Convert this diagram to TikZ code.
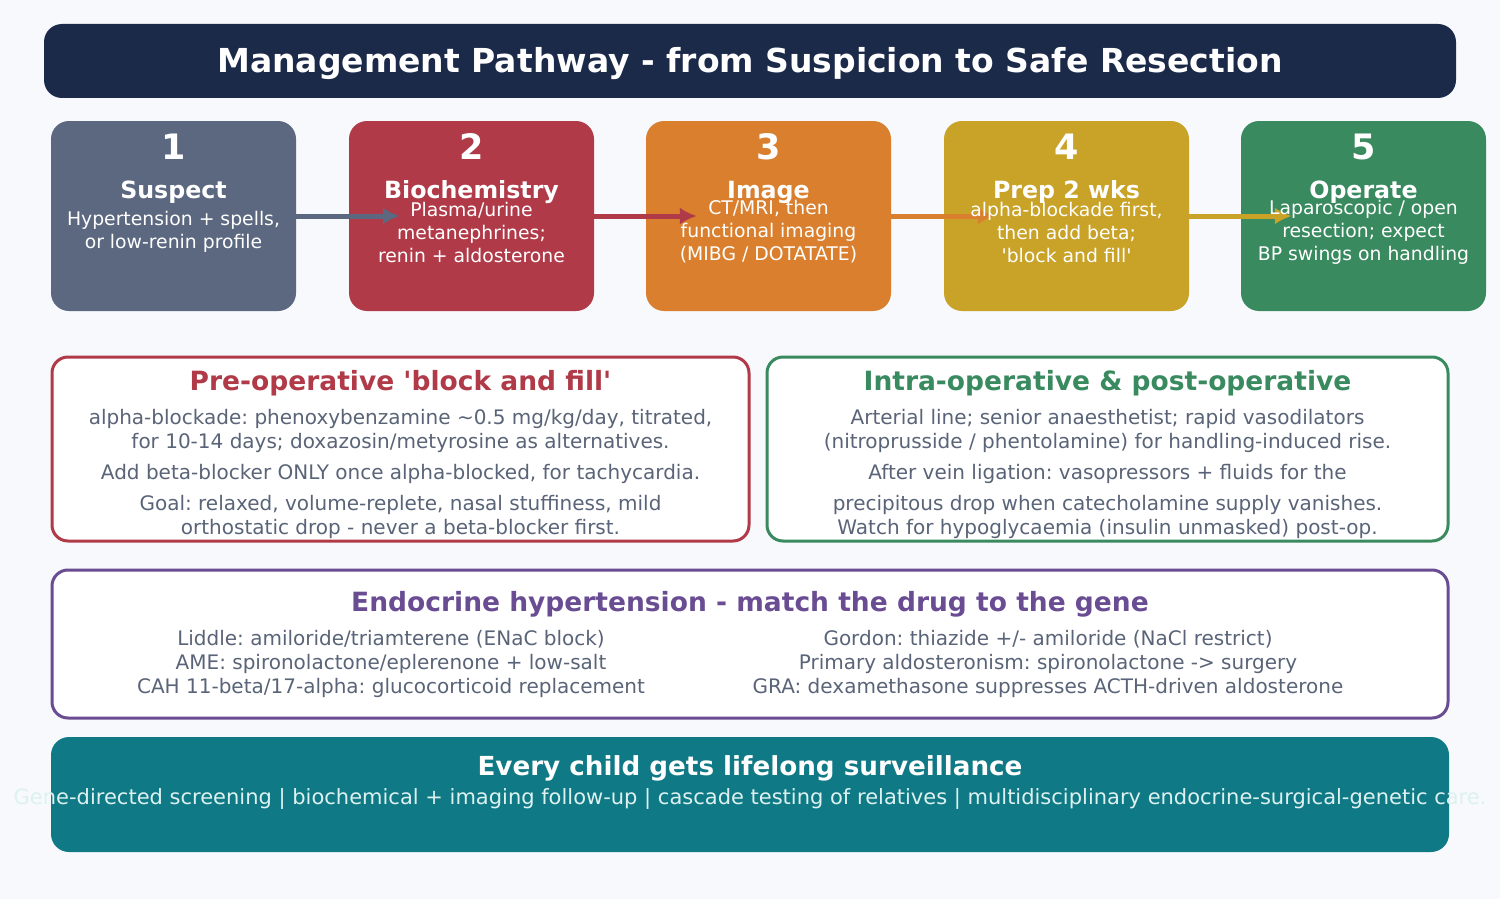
\documentclass[tikz,border=0pt]{standalone}
\usepackage{fontspec}
\setmainfont{DejaVu Sans}
\usetikzlibrary{arrows.meta,positioning}
\frenchspacing

\definecolor{pagebg}{HTML}{F7F9FC}
\definecolor{navy}{HTML}{1C2A4A}
\definecolor{slate}{HTML}{5B6880}
\definecolor{crimson}{HTML}{B03A48}
\definecolor{amber}{HTML}{D97F2E}
\definecolor{mustard}{HTML}{C9A228}
\definecolor{leaf}{HTML}{3A8A60}
\definecolor{plum}{HTML}{6A4C93}
\definecolor{teal}{HTML}{0F7A85}
\definecolor{bodygray}{HTML}{5A6478}
\definecolor{mist}{HTML}{DDF1F1}

\newcommand{\q}{\textquotesingle}

\begin{document}
\begin{tikzpicture}[x=1pt, y=-1pt,
  stepbox/.style={fill=#1, rounded corners=18pt, minimum width=245pt, minimum height=190pt, inner sep=0pt},
  panel/.style={draw=#1, line width=3pt, fill=white, rounded corners=16pt, inner sep=0pt},
  numtxt/.style={text=white, font=\fontsize{35}{40}\selectfont\bfseries},
  steptitle/.style={text=white, font=\fontsize{23.7}{28}\selectfont\bfseries},
  stepdesc/.style={text=white, align=center, font=\fontsize{18.8}{23}\selectfont},
  head/.style={text=#1, font=\fontsize{26.5}{30}\selectfont\bfseries},
  body/.style={text=bodygray, align=center, font=\fontsize{20}{24}\selectfont},
  flow/.style={-{Latex[length=17pt,width=17pt]}, line width=5pt, draw=#1}
]
\useasboundingbox[fill=pagebg] (0,0) rectangle (1500,899);

% title bar
\node[fill=navy, rounded corners=18pt, minimum width=1412pt, minimum height=74pt, inner sep=0pt] (title) at (750,61) {};
\node[text=white, font=\fontsize{33}{38}\selectfont\bfseries] (titletxt) at (750,64) {Management Pathway - from Suspicion to Safe Resection};

% five steps
\node[stepbox=slate] (s1) at (173.5,216) {};
\node[stepbox=crimson] (s2) at (471.5,216) {};
\node[stepbox=amber] (s3) at (768.5,216) {};
\node[stepbox=mustard] (s4) at (1066.5,216) {};
\node[stepbox=leaf] (s5) at (1363.5,216) {};

\draw[flow=slate] (s1.east) -- ([xshift=51pt]s2.west);
\draw[flow=crimson] (s2.east) -- ([xshift=51pt]s3.west);
\draw[flow=amber] (s3.east) -- ([xshift=51pt]s4.west);
\draw[flow=mustard] (s4.east) -- ([xshift=51pt]s5.west);

\node[numtxt] (n1) at (173.5,147) {1};
\node[numtxt] (n2) at (471.5,147) {2};
\node[numtxt] (n3) at (768.5,147) {3};
\node[numtxt] (n4) at (1066.5,147) {4};
\node[numtxt] (n5) at (1363.5,147) {5};

\node[steptitle] (t1) at (173.5,192) {Suspect};
\node[steptitle] (t2) at (471.5,192) {Biochemistry};
\node[steptitle] (t3) at (768.5,192) {Image};
\node[steptitle] (t4) at (1066.5,192) {Prep 2 wks};
\node[steptitle] (t5) at (1363.5,192) {Operate};

\node[stepdesc] (d1) at (173.5,232) {Hypertension + spells,\\or low-renin profile};
\node[stepdesc] (d2) at (471.5,232) {Plasma/urine\\metanephrines;\\renin + aldosterone};
\node[stepdesc] (d3) at (768.5,232) {CT/MRI, then\\functional imaging\\(MIBG / DOTATATE)};
\node[stepdesc] (d4) at (1066.5,232) {alpha-blockade first,\\then add beta;\\\q block and fill\q};
\node[stepdesc] (d5) at (1363.5,232) {Laparoscopic / open\\resection; expect\\BP swings on handling};

% pre-operative panel
\node[panel=crimson, minimum width=697pt, minimum height=184pt] (pre) at (400.5,449) {};
\node[head=crimson] (prehead) at (400.5,383) {Pre-operative \q block and fill\q};
\node[body] (pre1) at (400.5,431) {alpha-blockade: phenoxybenzamine \textasciitilde0.5 mg/kg/day, titrated,\\for 10-14 days; doxazosin/metyrosine as alternatives.};
\node[body] (pre2) at (400.5,474) {Add beta-blocker ONLY once alpha-blocked, for tachycardia.};
\node[body] (pre3) at (400.5,517) {Goal: relaxed, volume-replete, nasal stuffiness, mild\\orthostatic drop - never a beta-blocker first.};

% intra/post-operative panel
\node[panel=leaf, minimum width=681pt, minimum height=184pt] (intra) at (1107.5,449) {};
\node[head=leaf] (intrahead) at (1107.5,383) {Intra-operative \& post-operative};
\node[body] (intra1) at (1107.5,431) {Arterial line; senior anaesthetist; rapid vasodilators\\(nitroprusside / phentolamine) for handling-induced rise.};
\node[body] (intra2) at (1107.5,474) {After vein ligation: vasopressors + fluids for the};
\node[body] (intra3) at (1107.5,517) {precipitous drop when catecholamine supply vanishes.\\Watch for hypoglycaemia (insulin unmasked) post-op.};

% endocrine hypertension panel
\node[panel=plum, minimum width=1396pt, minimum height=148pt] (endo) at (750,644) {};
\node[head=plum] (endohead) at (750,604) {Endocrine hypertension - match the drug to the gene};
\node[body] (endol) at (391,664) {Liddle: amiloride/triamterene (ENaC block)\\AME: spironolactone/eplerenone + low-salt\\CAH 11-beta/17-alpha: glucocorticoid replacement};
\node[body] (endor) at (1048,664) {Gordon: thiazide +/- amiloride (NaCl restrict)\\Primary aldosteronism: spironolactone -> surgery\\GRA: dexamethasone suppresses ACTH-driven aldosterone};

% surveillance banner
\node[fill=teal, rounded corners=18pt, minimum width=1398pt, minimum height=115pt, inner sep=0pt] (surv) at (750,794.5) {};
\node[text=white, font=\fontsize{26.2}{30}\selectfont\bfseries] (survhead) at (750,768) {Every child gets lifelong surveillance};
\node[text=mist, font=\fontsize{21}{24}\selectfont] (survsub) at (750,799) {Gene-directed screening | biochemical + imaging follow-up | cascade testing of relatives | multidisciplinary endocrine-surgical-genetic care.};
\end{tikzpicture}
\end{document}
